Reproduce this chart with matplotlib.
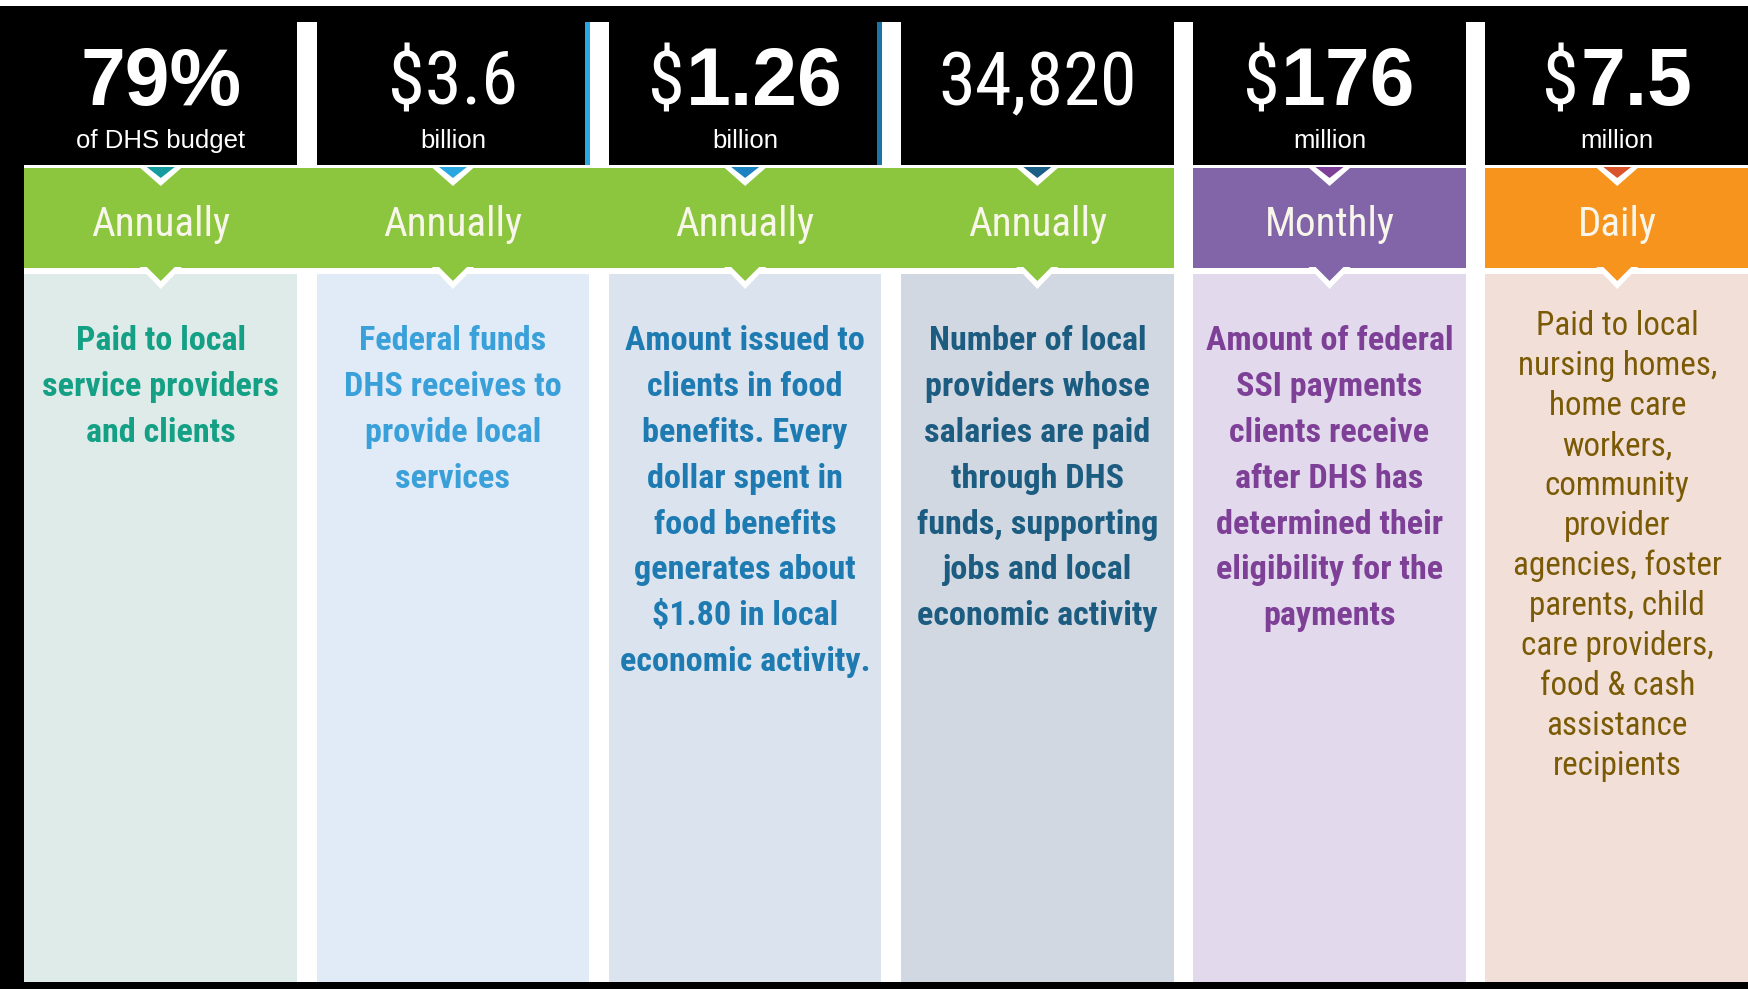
import os
import matplotlib
matplotlib.use('Agg')
import matplotlib.pyplot as plt
from matplotlib.patches import Rectangle, Polygon
import matplotlib.font_manager as fm
from matplotlib.textpath import TextToPath

# ---------------- data ----------------
values = ['79%', '$3.6', '$1.26', '34,820', '$176', '$7.5']
units = ['of DHS budget', 'billion', 'billion', '', 'million', 'million']
frequencies = ['Annually', 'Annually', 'Annually', 'Annually', 'Monthly', 'Daily']
descriptions = [
    'Paid to local\nservice providers\nand clients',
    'Federal funds\nDHS receives to\nprovide local\nservices',
    'Amount issued to\nclients in food\nbenefits. Every\ndollar spent in\nfood benefits\ngenerates about\n$1.80 in local\neconomic activity.',
    'Number of local\nproviders whose\nsalaries are paid\nthrough DHS\nfunds, supporting\njobs and local\neconomic activity',
    'Amount of federal\nSSI payments\nclients receive\nafter DHS has\ndetermined their\neligibility for the\npayments',
    'Paid to local\nnursing homes,\nhome care\nworkers,\ncommunity\nprovider\nagencies, foster\nparents, child\ncare providers,\nfood & cash\nassistance\nrecipients',
]

# ---------------- styles ----------------
value_style = ['bold', 'light', 'dollar_bold', 'light', 'dollar_bold', 'dollar_bold']
band_colors = ['#8CC63F', '#8CC63F', '#8CC63F', '#8CC63F', '#8165A8', '#F7941D']
bullet_colors = ['#169C9E', '#2AA7E0', '#1C82C2', '#1B5E86', '#7D3F98', '#D9532B']
body_colors = ['#DFEBE9', '#E1EBF7', '#DAE3EE', '#D2D8E1', '#E2D9EC', '#F2DFD8']
text_colors = ['#14A085', '#3AA0D9', '#1E7BB2', '#1B5C80', '#7E3F97', '#7A5A05']
text_bold = [True, True, True, True, True, False]
edge_lines = [None, '#2AA7E0', '#1A74A6', None, None, None]
band_text_color = '#F8F6EA'


def _weight(f):
    w = f.weight
    if isinstance(w, str):
        w = {'bold': 700, 'normal': 400, 'regular': 400, 'light': 300,
             'medium': 500, 'semibold': 600}.get(w.lower(), 400)
    return w


def cond_font(bold):
    prefs = ['liberationsansnarrow', 'robotocondensed', 'roboto_condensed',
             'opensanscondensed', 'opensans_condensed', 'notosans-condensed',
             'notosanscondensed', 'dejavusanscondensed', 'condensed', 'narrow']
    files = [f for f in fm.fontManager.ttflist
             if 'italic' not in f.fname.lower() and 'oblique' not in f.fname.lower()]
    target = 700 if bold else 400
    for p in prefs:
        cands = [f for f in files
                 if p in os.path.basename(f.fname).lower().replace(' ', '')]
        if not cands:
            continue
        best = min(cands, key=lambda f: abs(_weight(f) - target)
                   + (0 if ('bold' in os.path.basename(f.fname).lower()) == bold else 60)
                   + (30 if ('semi' in f.fname.lower() or 'extra' in f.fname.lower()) else 0))
        return fm.FontProperties(fname=best.fname), True
    return fm.FontProperties(family=['Liberation Sans', 'DejaVu Sans'],
                             weight='bold' if bold else 'normal'), False


COND_REG, found_r = cond_font(False)
COND_BOLD, found_b = cond_font(True)
SANS_REG = fm.FontProperties(family=['Liberation Sans', 'DejaVu Sans'], weight='normal')
SANS_BOLD = fm.FontProperties(family=['Liberation Sans', 'DejaVu Sans'], weight='bold')

ttp = TextToPath()


def text_w(s, fp):
    return ttp.get_text_width_height_descent(s, fp, ismath=False)[0]


sample = 'Annually economic activity'
ref = SANS_REG.copy(); ref.set_size(20)
cr = COND_REG.copy(); cr.set_size(20)
ratio = text_w(sample, cr) / text_w(sample, ref)
cond_scale = min(1.0, 0.82 / ratio) ** 0.85 if ratio > 0 else 1.0


def fp_of(base, size_pt):
    f = base.copy()
    f.set_size(size_pt)
    return f


# ---------------- figure ----------------
W, H = 1749, 989
fig = plt.figure(figsize=(W / 100, H / 100), dpi=100, facecolor='black')
ax = fig.add_axes([0, 0, 1, 1])
ax.set_xlim(0, W)
ax.set_ylim(H, 0)
ax.axis('off')
ax.set_facecolor('black')

left0, pitch, colw = 24.5, 292.2, 272.5
head_top, head_bot = 22, 165
band_top, band_bot = 168, 268
body_top, body_bot = 274, 982
n = len(values)
xl = [left0 + i * pitch for i in range(n)]
xr = [min(x + colw, W) for x in xl]
xr[-1] = W
cx = [(a + b) / 2 for a, b in zip(xl, xr)]

# white top strip and white base for band/body area
ax.add_patch(Rectangle((0, 0), W, 6, color='white', lw=0))
ax.add_patch(Rectangle((left0, head_bot), W - left0, body_bot - head_bot, color='white', lw=0))

# header separators
for i in range(n - 1):
    ax.add_patch(Rectangle((xr[i], head_top), xl[i + 1] - xr[i], head_bot - head_top,
                           color='white', lw=0))
for i, c in enumerate(edge_lines):
    if c is not None:
        ax.add_patch(Rectangle((xr[i] - 4.5, head_top), 5, head_bot - head_top, color=c, lw=0))

# body panels
for i in range(n):
    ax.add_patch(Rectangle((xl[i], body_top), xr[i] - xl[i], body_bot - body_top,
                           color=body_colors[i], lw=0))

# bands
for i in range(n):
    x0, x1 = xl[i], xr[i]
    if i + 1 < n and band_colors[i + 1] == band_colors[i]:
        x1 = xl[i + 1]
    ax.add_patch(Rectangle((x0, band_top), x1 - x0, band_bot - band_top,
                           color=band_colors[i], lw=0))

# notches
for i in range(n):
    c = cx[i]
    ax.add_patch(Polygon([(c - 21, band_top - 0.5), (c + 21, band_top - 0.5), (c, band_top + 18)],
                         closed=True, color='white', lw=0))
    ax.add_patch(Polygon([(c - 14, band_top - 1), (c + 14, band_top - 1), (c, band_top + 10)],
                         closed=True, color=bullet_colors[i], lw=0))
    ax.add_patch(Polygon([(c - 21, band_bot - 1), (c + 21, band_bot - 1), (c, band_bot + 21)],
                         closed=True, color='white', lw=0))
    ax.add_patch(Polygon([(c - 14, band_bot - 1), (c + 14, band_bot - 1), (c, band_bot + 13)],
                         closed=True, color=band_colors[i], lw=0))

# ---------------- texts ----------------
renderer = fig.canvas.get_renderer()
big_pt = 58
num_base = 105
for i, v in enumerate(values):
    st = value_style[i]
    if st == 'bold':
        ax.text(cx[i], num_base, v, color='white', ha='center', va='baseline',
                fontproperties=fp_of(SANS_BOLD, big_pt), parse_math=False)
    elif st == 'light':
        ax.text(cx[i], num_base, v, color='white', ha='center', va='baseline',
                fontproperties=fp_of(COND_REG, big_pt * cond_scale), parse_math=False)
    else:
        t1 = ax.text(0, num_base, v[0], color='white', ha='left', va='baseline',
                     fontproperties=fp_of(COND_REG, big_pt * cond_scale), parse_math=False)
        t2 = ax.text(0, num_base, v[1:], color='white', ha='left', va='baseline',
                     fontproperties=fp_of(SANS_BOLD, big_pt), parse_math=False)
        w1 = t1.get_window_extent(renderer).width
        w2 = t2.get_window_extent(renderer).width
        gap = 1
        x0 = cx[i] - (w1 + gap + w2) / 2
        t1.set_x(x0)
        t2.set_x(x0 + w1 + gap)
    if units[i]:
        ax.text(cx[i], 148, units[i], color='white', ha='center', va='baseline',
                fontproperties=fp_of(SANS_REG, 18.5), parse_math=False)

for i, f in enumerate(frequencies):
    ax.text(cx[i], 236, f, color=band_text_color, ha='center', va='baseline',
            fontproperties=fp_of(COND_REG, 32 * cond_scale), parse_math=False)

for i, d in enumerate(descriptions):
    if text_bold[i]:
        base, size, first, step = COND_BOLD, 26.6, 338, 45.8
    else:
        base, size, first, step = COND_REG, 25.8, 323.5, 40.0
    fsize = size * cond_scale
    px = fsize * 100 / 72
    for k, line in enumerate(d.split('\n')):
        ax.text(cx[i], first + k * step + 0.36 * px, line, color=text_colors[i],
                ha='center', va='baseline', fontproperties=fp_of(base, fsize),
                parse_math=False)

fig.savefig('out.png', dpi=100, facecolor='black')
